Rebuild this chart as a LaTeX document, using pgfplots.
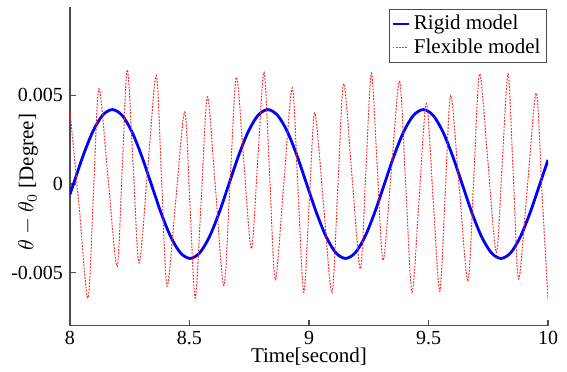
\documentclass[border=0pt]{standalone}
\usepackage{fontspec}
\setmainfont{Liberation Serif}
\usepackage{pgfplots}
\pgfplotsset{compat=1.18}
\usetikzlibrary{calc}
\begin{document}
\begin{tikzpicture}
\begin{axis}[
  name=ax,
  scale only axis,
  width=239pt, height=159.5pt,
  xmin=8, xmax=10, ymin=-0.008, ymax=0.01,
  axis x line*=bottom, axis y line*=left,
  axis line style={gray!60!black, line width=0.6pt},
  tick style={gray!60!black, line width=0.6pt},
  tick align=inside, major tick length=3pt,
  xtick={8,8.5,9,9.5,10},
  xticklabels={8,8.5,9,9.5,10},
  ytick={-0.005,0,0.005},
  yticklabels={-0.005,0,0.005},
  /pgf/number format/assume math mode=true,
  ticklabel style={font=\fontsize{10}{12}\selectfont},
  xticklabel style={yshift=1pt},
  xlabel={Time[second]},
  ylabel={$\theta-\theta_0$ [Degree]},
  label style={font=\fontsize{10.5}{12}\selectfont},
  xlabel style={at={(axis description cs:0.5,0)}, anchor=north, yshift=-7.5pt},
  ylabel style={at={(axis description cs:-0.088,0.45)}, anchor=center},
  legend style={at={(1,1)}, anchor=north east, xshift=-0.5pt, yshift=-1pt,
    draw=gray!60!black, line width=0.5pt, font=\fontsize{10.5}{12}\selectfont,
    inner sep=1pt, row sep=-1pt},
  legend cell align=left,
  legend image code/.code={\draw[#1] (0cm,0cm) -- (0.28cm,0cm);},
]
\addplot[blue, line width=1.4pt, smooth] coordinates {
(8.0000,-0.00058) (8.0145,0) (8.0552,0.00161) (8.0958,0.00297) (8.1365,0.00388)
(8.1771,0.0042) (8.2178,0.00388) (8.2584,0.00297) (8.2991,0.00161) (8.3398,0)
(8.3804,-0.00161) (8.4211,-0.00297) (8.4617,-0.00388) (8.5024,-0.0042) (8.5430,-0.00388)
(8.5837,-0.00297) (8.6243,-0.00161) (8.6650,0) (8.7057,0.00161) (8.7463,0.00297)
(8.7870,0.00388) (8.8276,0.0042) (8.8683,0.00388) (8.9089,0.00297) (8.9496,0.00161)
(8.9902,0) (9.0309,-0.00161) (9.0716,-0.00297) (9.1122,-0.00388) (9.1529,-0.0042)
(9.1935,-0.00388) (9.2342,-0.00297) (9.2748,-0.00161) (9.3155,0) (9.3561,0.00161)
(9.3968,0.00297) (9.4375,0.00388) (9.4781,0.0042) (9.5188,0.00388) (9.5594,0.00297)
(9.6001,0.00161) (9.6407,0) (9.6814,-0.00161) (9.7220,-0.00297) (9.7627,-0.00388)
(9.8034,-0.0042) (9.8440,-0.00388) (9.8847,-0.00297) (9.9253,-0.00161) (9.9660,0)
(10.000,0.00136)
};
\addlegendentry{Rigid model}
\addplot[red!85, line width=0.5pt, dash pattern=on 0.9pt off 0.7pt, smooth] coordinates {
(8.000,0.0041) (8.0375,-0.00117) (8.075,-0.00643) (8.098,-0.000525) (8.121,0.00538)
(8.159,0.000365) (8.197,-0.00465) (8.2185,0.0009) (8.240,0.00645) (8.2645,0.000995)
(8.289,-0.00446) (8.325,0.000835) (8.361,0.00613) (8.3835,0.00018) (8.406,-0.00577)
(8.443,-0.000855) (8.480,0.00406) (8.502,-0.001185) (8.524,-0.00643) (8.5495,-0.00076)
(8.575,0.00491) (8.6095,-0.00041) (8.644,-0.00573) (8.670,0.00015) (8.696,0.00603)
(8.7275,0.00119) (8.759,-0.00365) (8.7855,0.00133) (8.812,0.00631) (8.8355,0.000455)
(8.859,-0.0054) (8.8945,0.000015) (8.930,0.00543) (8.954,-0.00034) (8.978,-0.00611)
(9.001,-0.00105) (9.024,0.00401) (9.060,-0.001065) (9.096,-0.00614) (9.1205,-0.00024)
(9.145,0.00566) (9.180,0.000435) (9.215,-0.00479) (9.238,0.000735) (9.261,0.00626)
(9.2855,0.000975) (9.310,-0.00431) (9.3445,0.00074) (9.379,0.00579) (9.405,-0.00016)
(9.431,-0.00611) (9.461,-0.000785) (9.491,0.00454) (9.519,-0.000755) (9.547,-0.00605)
(9.570,-0.000525) (9.593,0.005) (9.629,-0.000245) (9.665,-0.00549) (9.6895,0.000365)
(9.714,0.00622) (9.749,0.00118) (9.784,-0.00386) (9.8085,0.00118) (9.833,0.00622)
(9.855,0.00043) (9.877,-0.00536) (9.914,-0.000115) (9.951,0.00513) (9.9755,-0.000675)
(10.000,-0.00648)
};
\addlegendentry{Flexible model}
\end{axis}
\pgfresetboundingbox
\path ($(ax.south west)+(-35pt,-23pt)$) rectangle ($(ax.north east)+(9.5pt,3.4pt)$);
\end{tikzpicture}
\end{document}
